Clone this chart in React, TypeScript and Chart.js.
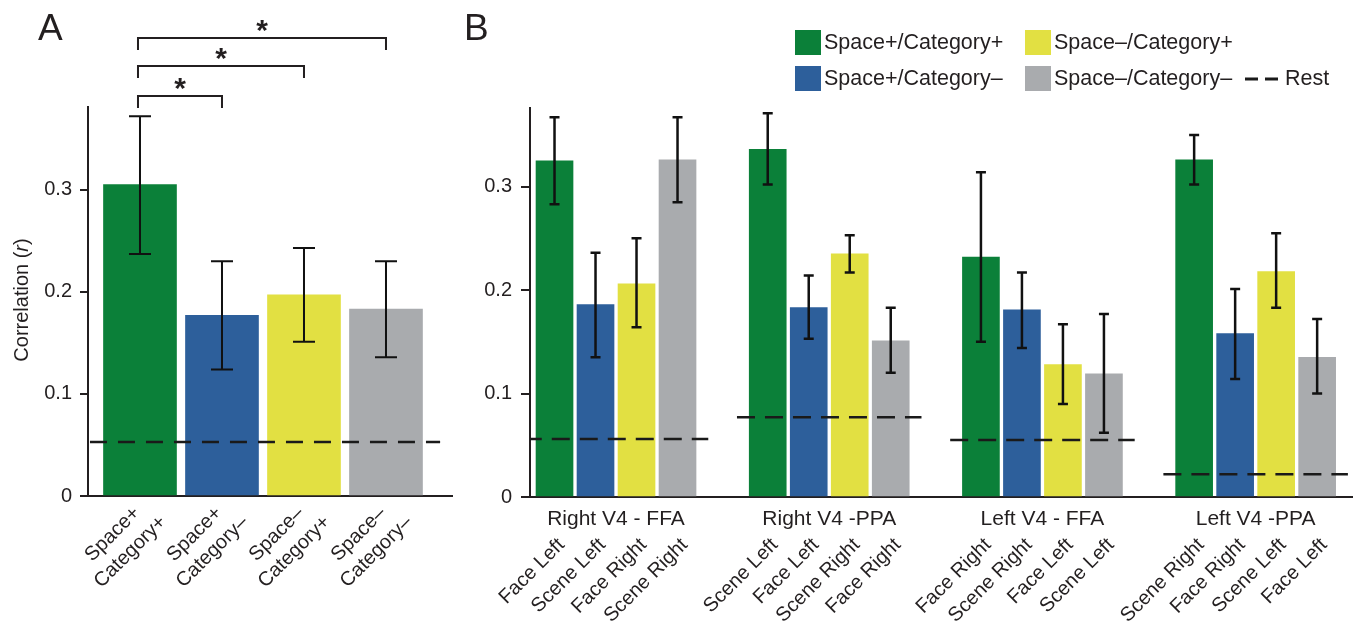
import React, { useEffect, useRef } from "react";
import { Chart, registerables } from "chart.js";
Chart.register(...registerables);

const FONT = '"Liberation Sans", Arial, Helvetica, sans-serif';
const INK = "#231f20";
const COLORS = ["#0b8039", "#2d5f9b", "#e2e042", "#a9abae"];

// ---------- Panel A data ----------
const aCategories = [
  ["Space+", "Category+"],
  ["Space+", "Category\u2013"],
  ["Space\u2013", "Category+"],
  ["Space\u2013", "Category\u2013"],
];
const aMeans = [0.305, 0.177, 0.197, 0.183];
const aErrLow = [0.237, 0.124, 0.151, 0.136];
const aErrHigh = [0.372, 0.23, 0.243, 0.23];
const aRest = 0.053;
const aSigPairs = [
  [0, 1],
  [0, 2],
  [0, 3],
];
const aSigMarks = ["*", "*", "*"];
const yTicks = [0, 0.1, 0.2, 0.3];
const aYTitle = ["Correlation (", "r", ")"];

// ---------- Panel B data ----------
const bSeriesNames = [
  "Space+/Category+",
  "Space+/Category\u2013",
  "Space\u2013/Category+",
  "Space\u2013/Category\u2013",
];
const bGroups = ["Right V4 - FFA", "Right V4 -PPA", "Left V4 - FFA", "Left V4 -PPA"];
const bBarLabels = [
  ["Face Left", "Scene Left", "Face Right", "Scene Right"],
  ["Scene Left", "Face Left", "Scene Right", "Face Right"],
  ["Face Right", "Scene Right", "Face Left", "Scene Left"],
  ["Scene Right", "Face Right", "Scene Left", "Face Left"],
];
// values by series, one entry per group
const bSpacePlusCatPlus = [0.325, 0.336, 0.232, 0.326];
const bSpacePlusCatMinus = [0.186, 0.183, 0.181, 0.158];
const bSpaceMinusCatPlus = [0.206, 0.235, 0.128, 0.218];
const bSpaceMinusCatMinus = [0.326, 0.151, 0.119, 0.135];
const bErrLow = [
  [0.283, 0.302, 0.15, 0.302],
  [0.135, 0.153, 0.144, 0.114],
  [0.164, 0.217, 0.09, 0.183],
  [0.285, 0.12, 0.062, 0.1],
];
const bErrHigh = [
  [0.367, 0.371, 0.314, 0.35],
  [0.236, 0.214, 0.217, 0.201],
  [0.25, 0.253, 0.167, 0.255],
  [0.367, 0.183, 0.177, 0.172],
];
const bRest = [0.056, 0.077, 0.055, 0.022];
const bSeries = [bSpacePlusCatPlus, bSpacePlusCatMinus, bSpaceMinusCatPlus, bSpaceMinusCatMinus];
const legendLayout = [
  [0, 2],
  [1, 3],
];
const restLabel = "Rest";

const GROUP_STEP = 5.2;
const xPos = (g: number, i: number) => g * GROUP_STEP + i;

function errorBarPlugin(getLow: (d: number, j: number) => number, getHigh: (d: number, j: number) => number, cap: number, lw: number) {
  return {
    id: "errbars",
    afterDatasetsDraw(chart: any) {
      const ctx = chart.ctx;
      const y = chart.scales.y;
      ctx.save();
      ctx.strokeStyle = "#111";
      ctx.lineWidth = lw;
      chart.data.datasets.forEach((ds: any, d: number) => {
        if (ds.type !== "bar") return;
        const meta = chart.getDatasetMeta(d);
        meta.data.forEach((el: any, j: number) => {
          const x = el.x;
          const y1 = y.getPixelForValue(getLow(d, j));
          const y2 = y.getPixelForValue(getHigh(d, j));
          ctx.beginPath();
          ctx.moveTo(x, y1);
          ctx.lineTo(x, y2);
          ctx.moveTo(x - cap / 2, y1);
          ctx.lineTo(x + cap / 2, y1);
          ctx.moveTo(x - cap / 2, y2);
          ctx.lineTo(x + cap / 2, y2);
          ctx.stroke();
        });
      });
      ctx.restore();
    },
  };
}

const yScale = (max: number, width: number, tickLen: number, pad: number) => ({
  type: "linear",
  min: 0,
  max,
  afterBuildTicks: (s: any) => {
    s.ticks = yTicks.map((v) => ({ value: v }));
  },
  afterFit: (s: any) => {
    s.width = width;
  },
  ticks: {
    font: { family: FONT, size: 20 },
    color: INK,
    padding: pad,
    callback: (v: any) => (Number(v) === 0 ? "0" : Number(v).toFixed(1)),
  },
  grid: { display: true, drawOnChartArea: false, drawTicks: true, tickLength: tickLen, color: INK, lineWidth: 2 },
  border: { display: true, color: INK, width: 2 },
});

const xScale = (min: number, max: number) => ({
  type: "linear",
  min,
  max,
  offset: false,
  z: 1,
  afterFit: (s: any) => {
    s.height = 0;
  },
  ticks: { display: false },
  grid: { display: false, drawTicks: false, offset: false },
  border: { display: true, color: INK, width: 2 },
});

function configA(): any {
  const labelsPlugin = {
    id: "labelsA",
    afterDraw(chart: any) {
      const ctx = chart.ctx;
      const x = chart.scales.x;
      const area = chart.chartArea;
      ctx.save();
      ctx.fillStyle = INK;
      ctx.strokeStyle = INK;
      // panel letter
      ctx.font = `37px ${FONT}`;
      ctx.textAlign = "left";
      ctx.textBaseline = "alphabetic";
      ctx.fillText("A", 38, 40);
      // y title
      ctx.save();
      ctx.translate(22, 300);
      ctx.rotate(-Math.PI / 2);
      ctx.textBaseline = "middle";
      const fonts = [`20px ${FONT}`, `italic 20px ${FONT}`, `20px ${FONT}`];
      let total = 0;
      const widths = aYTitle.map((t, k) => {
        ctx.font = fonts[k];
        const w = ctx.measureText(t).width;
        total += w;
        return w;
      });
      let cx = -total / 2;
      aYTitle.forEach((t, k) => {
        ctx.font = fonts[k];
        ctx.fillText(t, cx, 0);
        cx += widths[k];
      });
      ctx.restore();
      // category labels
      ctx.font = `20px ${FONT}`;
      ctx.textAlign = "center";
      ctx.textBaseline = "middle";
      const lh = 25;
      const c = Math.SQRT1_2;
      aCategories.forEach((lines, i) => {
        const bx = x.getPixelForValue(i) - 18.5;
        const by = area.bottom + 47;
        lines.forEach((t, k) => {
          const off = (k - (lines.length - 1) / 2) * lh;
          ctx.save();
          ctx.translate(bx + c * off, by + c * off);
          ctx.rotate(-Math.PI / 4);
          ctx.fillText(t, 0, 0);
          ctx.restore();
        });
      });
      // significance brackets
      const levels = [96, 66, 38];
      ctx.lineWidth = 2;
      aSigPairs.forEach((p, k) => {
        const x1 = x.getPixelForValue(p[0]) - 2;
        const x2 = x.getPixelForValue(p[1]);
        const yb = levels[k];
        ctx.beginPath();
        ctx.moveTo(x1, yb + 12);
        ctx.lineTo(x1, yb);
        ctx.lineTo(x2, yb);
        ctx.lineTo(x2, yb + 12);
        ctx.stroke();
        ctx.font = `bold 30px ${FONT}`;
        ctx.textAlign = "center";
        ctx.textBaseline = "middle";
        ctx.fillText(aSigMarks[k], (x1 + x2) / 2, yb - 6);
      });
      ctx.restore();
    },
  };
  return {
    type: "bar",
    data: {
      datasets: [
        {
          type: "bar",
          label: "Correlation",
          data: aMeans.map((v, i) => ({ x: i, y: v })),
          backgroundColor: COLORS,
          barThickness: 73,
          grouped: false,
          borderWidth: 0,
          order: 1,
        },
        {
          type: "line",
          label: "Rest",
          data: [
            { x: -0.61, y: aRest },
            { x: aMeans.length - 1 + 0.66, y: aRest },
          ],
          borderColor: "#1a1a1a",
          borderWidth: 2.5,
          borderDash: [17, 11],
          pointRadius: 0,
          fill: false,
          order: 0,
        },
      ],
    },
    options: {
      responsive: false,
      animation: false,
      devicePixelRatio: 1,
      events: [],
      layout: { padding: { top: 107, right: 8, bottom: 139, left: 0 } },
      plugins: { legend: { display: false }, tooltip: { enabled: false } },
      scales: { x: xScale(-0.634, 3.805), y: yScale(0.381, 88, 8, 8) },
    },
    plugins: [errorBarPlugin((d, j) => aErrLow[j], (d, j) => aErrHigh[j], 22, 2), labelsPlugin],
  };
}

function configB(): any {
  const labelsPlugin = {
    id: "labelsB",
    afterDraw(chart: any) {
      const ctx = chart.ctx;
      const x = chart.scales.x;
      const area = chart.chartArea;
      ctx.save();
      ctx.fillStyle = INK;
      ctx.strokeStyle = INK;
      ctx.font = `37px ${FONT}`;
      ctx.textAlign = "left";
      ctx.textBaseline = "alphabetic";
      ctx.fillText("B", 4, 40);
      // group labels
      ctx.font = `21px ${FONT}`;
      ctx.textAlign = "center";
      ctx.textBaseline = "middle";
      bGroups.forEach((g, gi) => {
        const cx = (x.getPixelForValue(xPos(gi, 0)) + x.getPixelForValue(xPos(gi, 3))) / 2;
        ctx.fillText(g, cx, area.bottom + 22);
      });
      // bar labels
      ctx.font = `20px ${FONT}`;
      ctx.textAlign = "right";
      ctx.textBaseline = "middle";
      bBarLabels.forEach((labels, gi) => {
        labels.forEach((t, i) => {
          ctx.save();
          ctx.translate(x.getPixelForValue(xPos(gi, i)) + 7, area.bottom + 45);
          ctx.rotate(-Math.PI / 4);
          ctx.fillText(t, 0, 0);
          ctx.restore();
        });
      });
      // legend
      const colX = [335, 565];
      const rowY = [30, 66];
      ctx.font = `21.5px ${FONT}`;
      ctx.textAlign = "left";
      legendLayout.forEach((row, r) => {
        row.forEach((s, cIdx) => {
          ctx.fillStyle = COLORS[s];
          ctx.fillRect(colX[cIdx], rowY[r], 26, 25);
          ctx.fillStyle = INK;
          ctx.fillText(bSeriesNames[s], colX[cIdx] + 29, rowY[r] + 13.5);
        });
      });
      ctx.strokeStyle = "#1a1a1a";
      ctx.lineWidth = 3;
      ctx.setLineDash([13, 7]);
      ctx.beginPath();
      ctx.moveTo(785, 79);
      ctx.lineTo(818, 79);
      ctx.stroke();
      ctx.setLineDash([]);
      ctx.fillText(restLabel, 825, 79.5);
      ctx.restore();
    },
  };
  const restData: any[] = [];
  bRest.forEach((v, g) => {
    restData.push({ x: xPos(g, 0) - 0.75, y: v });
    restData.push({ x: xPos(g, 3) + 0.75, y: v });
    restData.push({ x: xPos(g, 3) + 1, y: null });
  });
  return {
    type: "bar",
    data: {
      datasets: [
        ...bSeries.map((vals, s) => ({
          type: "bar",
          label: bSeriesNames[s],
          data: vals.map((v, g) => ({ x: xPos(g, s), y: v })),
          backgroundColor: COLORS[s],
          barThickness: 37,
          grouped: false,
          borderWidth: 0,
          order: 1,
        })),
        {
          type: "line",
          label: restLabel,
          data: restData,
          borderColor: "#1a1a1a",
          borderWidth: 2.5,
          borderDash: [18, 10],
          pointRadius: 0,
          spanGaps: false,
          fill: false,
          order: 0,
        },
      ],
    },
    options: {
      responsive: false,
      animation: false,
      devicePixelRatio: 1,
      events: [],
      layout: { padding: { top: 108, right: 8, bottom: 138, left: 0 } },
      plugins: { legend: { display: false }, tooltip: { enabled: false } },
      scales: { x: xScale(-0.598, 19.45), y: yScale(0.376, 70, 9, 9) },
    },
    plugins: [errorBarPlugin((d, j) => bErrLow[d][j], (d, j) => bErrHigh[d][j], 10, 2.5), labelsPlugin],
  };
}

export default function App() {
  const refA = useRef<HTMLCanvasElement>(null);
  const refB = useRef<HTMLCanvasElement>(null);
  useEffect(() => {
    const a = new Chart(refA.current as HTMLCanvasElement, configA());
    const b = new Chart(refB.current as HTMLCanvasElement, configB());
    return () => {
      a.destroy();
      b.destroy();
    };
  }, []);
  return (
    <div style={{ position: "fixed", left: 0, top: 0, width: 1360, height: 635, background: "#ffffff" }}>
      <canvas ref={refA} width={460} height={635} style={{ position: "absolute", left: 0, top: 0, width: 460, height: 635 }} />
      <canvas ref={refB} width={900} height={635} style={{ position: "absolute", left: 460, top: 0, width: 900, height: 635 }} />
    </div>
  );
}
